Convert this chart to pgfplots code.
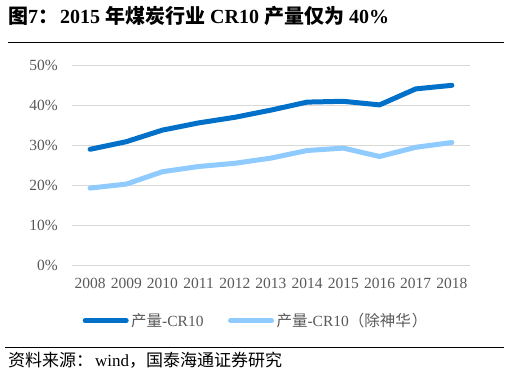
\documentclass[border=0pt]{standalone}
\usepackage{pgfplots}
\pgfplotsset{compat=1.18}
\usepackage{fontspec}
\setmainfont{Liberation Serif}
\newfontfamily\cjk{Noto Sans CJK SC}
\definecolor{darkblue}{HTML}{0070C8}
\definecolor{lightblue}{HTML}{8FCBFF}
\definecolor{gridgray}{HTML}{D9D9D9}
\definecolor{txtgray}{HTML}{595959}
\begin{document}
\begin{tikzpicture}
\useasboundingbox (-72bp,-109.3bp) rectangle (438bp,265.7bp);
\begin{axis}[
  at={(0,0)}, anchor=origin,
  scale only axis, width=398bp, height=200bp,
  xmin=2007.5, xmax=2018.5, ymin=0, ymax=50,
  xtick={2008,2009,...,2018}, ytick={0,10,...,50},
  /pgf/number format/assume math mode=true,
  xticklabel style={/pgf/number format/set thousands separator={}, inner sep=0pt, anchor=north, yshift=-12.6bp},
  yticklabel={\pgfmathprintnumber{\tick}\%},
  yticklabel style={inner sep=0pt, anchor=east, xshift=-14bp},
  ticklabel style={font=\fontsize{15.5bp}{18bp}\selectfont, text=txtgray},
  axis line style={draw=none}, tick style={draw=none},
  ymajorgrids, grid style={gridgray, line width=1.2bp},
  legend columns=2,
  legend style={at={(0.0264,-0.275)}, anchor=west, draw=none, fill=none, inner sep=0pt,
    font=\fontsize{15.5bp}{18bp}\selectfont, text=txtgray,
    nodes={inner xsep=2.5bp, inner ysep=0pt},
    /tikz/every even column/.append style={column sep=22bp}},
  legend cell align=left,
  legend image code/.code={\draw[#1, line cap=round] (0bp,0bp) -- (41bp,0bp);},
]
\addplot[darkblue, line width=5bp, line join=round, line cap=round] coordinates {
 (2008,29.1) (2009,31.0) (2010,33.9) (2011,35.7) (2012,37.1) (2013,38.9)
 (2014,40.9) (2015,41.1) (2016,40.2) (2017,44.2) (2018,45.1)};
\addlegendentry{{\cjk 产量}-CR10}
\addplot[lightblue, line width=5bp, line join=round, line cap=round] coordinates {
 (2008,19.4) (2009,20.4) (2010,23.5) (2011,24.8) (2012,25.6) (2013,26.9)
 (2014,28.8) (2015,29.4) (2016,27.3) (2017,29.6) (2018,30.8)};
\addlegendentry{{\cjk 产量}-CR10{\cjk （除神华}\hspace{1bp}{\cjk ）}}
\end{axis}
\node[anchor=base west, inner sep=0pt, font=\fontsize{20bp}{24bp}\selectfont\bfseries] at (-64bp,242.4bp)
  {{\cjk 图}7{\cjk ：}\hspace{2bp}2015 {\cjk 年煤炭行业} CR10 {\cjk 产量仅为} 40\%};
\draw[black, line width=1bp] (-64bp,222.7bp) -- (432bp,222.7bp);
\draw[black, line width=1bp] (-67bp,-82bp) -- (432bp,-82bp);
\node[anchor=base west, inner sep=0pt, font=\fontsize{17bp}{20bp}\selectfont] at (-64bp,-101bp)
  {{\cjk 资料来源：}\hspace{2bp}wind{\cjk ，国泰海通证券研究}};
\end{tikzpicture}
\end{document}
